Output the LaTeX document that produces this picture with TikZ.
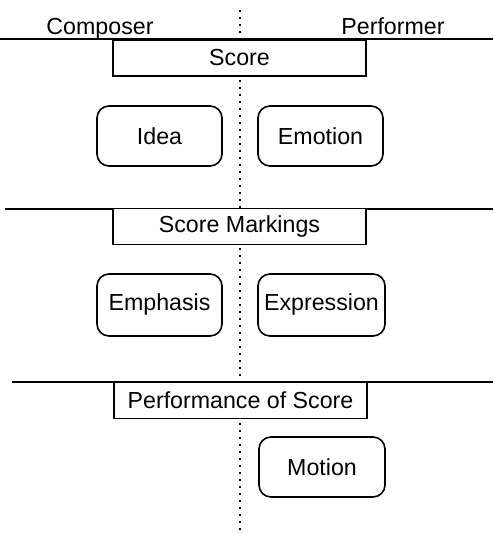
\documentclass[tikz,border=0pt]{standalone}
\usepackage{fontspec}
\setmainfont{Liberation Sans}
\usepackage{tikz}

\begin{document}
\begin{tikzpicture}[x=0.5pt, y=-0.5pt, line width=1pt,
    font=\fontsize{11.6}{14}\selectfont,
    stage/.style={draw, fill=white, line width=0.8pt, minimum width=126.5pt,
      minimum height=18pt, inner sep=1pt},
    facet/.style={draw, fill=white, line width=0.8pt, rounded corners=6pt,
      minimum width=62.5pt, minimum height=30pt, inner sep=1pt}]
    \useasboundingbox (0, 0) rectangle (493, 533);

    % draw column headings
    \node[anchor=base] (composer) at (100, 35) {Composer};
    \node[anchor=base] (performer) at (393, 35) {Performer};

    % draw dotted divider
    \coordinate (divtop) at (240, 10);
    \coordinate (divbot) at (240, 533);
    \draw[dash pattern=on 1pt off 2.5pt] (divtop) -- (divbot);

    % draw stage lines
    \draw (0, 39.5) -- (493, 39.5);
    \draw (5, 209) -- (493, 209);
    \draw (12, 382) -- (493, 382);

    % draw stage boxes
    \node[stage] (score) at (239.5, 58) {Score};
    \node[stage] (markings) at (239.5, 226.5) {Score Markings};
    \node[stage] (performance) at (240.5, 400.5) {Performance of Score};

    % draw rounded boxes
    \node[facet] (idea) at (159.5, 136) {Idea};
    \node[facet] (emotion) at (320.5, 136) {Emotion};
    \node[facet, minimum height=31pt] (emphasis) at (159.5, 305) {Emphasis};
    \node[facet, minimum height=31pt, minimum width=63.5pt] (expression) at (321.5, 305) {Expression};
    \node[facet, minimum width=63pt] (motion) at (322, 467) {Motion};

\end{tikzpicture}
\end{document}
